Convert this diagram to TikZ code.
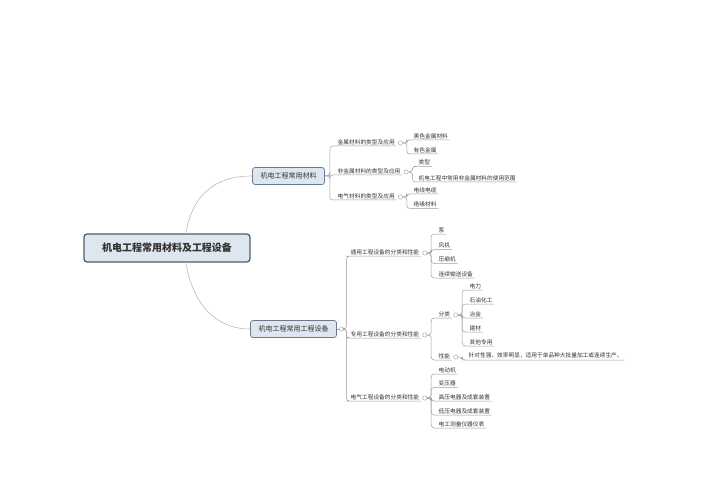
\documentclass[tikz,border=0pt]{standalone}
\usepackage{fontspec}
\newfontfamily\cjk{Noto Sans CJK SC}
\usetikzlibrary{positioning}
\definecolor{boxfill}{HTML}{DEE6EF}
\definecolor{boxline}{HTML}{6B7B8C}
\definecolor{rootline}{HTML}{4F5F70}
\definecolor{linkgray}{HTML}{9C9C9C}
\definecolor{textgray}{HTML}{333333}

\begin{document}
\begin{tikzpicture}[
	x=1pt, y=-1pt,
	rootbox/.style={ % 中心主题
		draw=rootline, line width=1.3pt, fill=boxfill, rounded corners=3pt,
		minimum width=166pt, minimum height=28pt, text=textgray,
		font=\cjk\bfseries\fontsize{10}{12}\selectfont
	},
	topic/.style={ % 一级主题
		draw=boxline, line width=0.7pt, fill=boxfill, rounded corners=2.5pt,
		minimum height=17pt, inner xsep=8pt, text=textgray,
		font=\cjk\fontsize{7}{8}\selectfont
	},
	leaf/.style={anchor=south west, inner xsep=1.5pt, inner ysep=1.2pt, text=textgray,
		font=\cjk\fontsize{5.7}{6.5}\selectfont},
	knob/.style={circle, draw=linkgray, fill=white, line width=0.4pt,
		inner sep=0pt, minimum size=4.4pt},
	link/.style={draw=linkgray, line width=0.5pt, rounded corners=3pt},
	trunk/.style={draw=linkgray!70, line width=0.6pt},
]
	\fill[white] (0,0) rectangle (718,500);
	\useasboundingbox (0,0) rectangle (718,500);

	%% 主题框
	\node[rootbox] (root) at (167,248) {机电工程常用材料及工程设备};
	\node[topic] (mat) at (288.5,176) {机电工程常用材料};
	\node[topic] (dev) at (293.5,329) {机电工程常用工程设备};
	\draw[trunk] (root.38) .. controls +(7,-40) and +(-36,0) .. (mat.west);
	\draw[trunk] (root.-38) .. controls +(7,40) and +(-36,0) .. (dev.west);

	%% 常用材料
	\node[leaf] (metal) at (336,146) {金属材料的类型及应用};
	\node[leaf] (nonmetal) at (336,175) {非金属材料的类型及应用};
	\node[leaf] (elec) at (336,200) {电气材料的类型及应用};
	\draw[link] (mat.east) -- ++(5,0) |- (metal.south west) -- (metal.south east);
	\draw[link] (mat.east) -- ++(5,0) |- (nonmetal.south west) -- (nonmetal.south east);
	\draw[link] (mat.east) -- ++(5,0) |- (elec.south west) -- (elec.south east);
	\node[knob] (metal-k) at ([shift={(4,-3)}]metal.south east) {};
	\node[knob] (nonmetal-k) at ([shift={(4,-3)}]nonmetal.south east) {};
	\node[knob] (elec-k) at ([shift={(4,-3)}]elec.south east) {};

	% 金属材料
	\node[leaf] (ferrous) at (412,140) {黑色金属材料};
	\node[leaf] (nonferrous) at (412,154) {有色金属};
	\draw[link] (metal-k.east) -- ++(4,0) |- (ferrous.south west) -- (ferrous.south east);
	\draw[link] (metal-k.east) -- ++(4,0) |- (nonferrous.south west) -- (nonferrous.south east);
	% 非金属材料
	\node[leaf] (kind) at (417,166.5) {类型};
	\node[leaf] (scope) at (417,182) {机电工程中常用非金属材料的使用范围};
	\draw[link] (nonmetal-k.east) -- ++(4,0) |- (kind.south west) -- (kind.south east);
	\draw[link] (nonmetal-k.east) -- ++(4,0) |- (scope.south west) -- (scope.south east);
	% 电气材料
	\node[leaf] (cable) at (412,194) {电线电缆};
	\node[leaf] (insul) at (412,208.5) {绝缘材料};
	\draw[link] (elec-k.east) -- ++(4,0) |- (cable.south west) -- (cable.south east);
	\draw[link] (elec-k.east) -- ++(4,0) |- (insul.south west) -- (insul.south east);

	%% 常用工程设备
	\node[knob] (dev-k) at ([xshift=4.7pt]dev.east) {};
	\draw[link] (dev.east) -- (dev-k);
	\node[leaf] (general) at (349,256) {通用工程设备的分类和性能};
	\node[leaf] (special) at (349,338) {专用工程设备的分类和性能};
	\node[leaf] (electric) at (349,401) {电气工程设备的分类和性能};
	\draw[link] (dev-k.east) -- ++(2.5,0) |- (general.south west) -- (general.south east);
	\draw[link] (dev-k.east) -- ++(2.5,0) |- (special.south west) -- (special.south east);
	\draw[link] (dev-k.east) -- ++(2.5,0) |- (electric.south west) -- (electric.south east);
	\node[knob] (general-k) at ([shift={(4,-3)}]general.south east) {};
	\node[knob] (special-k) at ([shift={(4,-3)}]special.south east) {};
	\node[knob] (electric-k) at ([shift={(4,-3)}]electric.south east) {};

	% 通用设备
	\node[leaf] (pump) at (437,234) {泵};
	\node[leaf] (fan) at (437,249.5) {风机};
	\node[leaf] (compr) at (437,263.5) {压缩机};
	\node[leaf] (convey) at (437,278) {连续输送设备};
	\draw[link] (general-k.east) -- ++(4,0) |- (pump.south west) -- (pump.south east);
	\draw[link] (general-k.east) -- ++(4,0) |- (fan.south west) -- (fan.south east);
	\draw[link] (general-k.east) -- ++(4,0) |- (compr.south west) -- (compr.south east);
	\draw[link] (general-k.east) -- ++(4,0) |- (convey.south west) -- (convey.south east);

	% 专用设备
	\node[leaf] (class) at (437,318) {分类};
	\node[leaf] (perf) at (437,360) {性能};
	\draw[link] (special-k.east) -- ++(4,0) |- (class.south west) -- (class.south east);
	\draw[link] (special-k.east) -- ++(4,0) |- (perf.south west) -- (perf.south east);
	\node[knob] (class-k) at ([shift={(4,-3)}]class.south east) {};
	\node[knob] (perf-k) at ([shift={(4,-3)}]perf.south east) {};
	\node[leaf] (power) at (468,290) {电力};
	\node[leaf] (petro) at (468,304) {石油化工};
	\node[leaf] (metall) at (468,318) {冶金};
	\node[leaf] (build) at (468,332) {建材};
	\node[leaf] (other) at (468,346) {其他专用};
	\draw[link] (class-k.east) -- ++(4,0) |- (power.south west) -- (power.south east);
	\draw[link] (class-k.east) -- ++(4,0) |- (petro.south west) -- (petro.south east);
	\draw[link] (class-k.east) -- ++(4,0) |- (metall.south west) -- (metall.south east);
	\draw[link] (class-k.east) -- ++(4,0) |- (build.south west) -- (build.south east);
	\draw[link] (class-k.east) -- ++(4,0) |- (other.south west) -- (other.south east);
	\node[leaf] (note) at (467,360) {针对性强、效率明显，适用于单品种大批量加工或连续生产。};
	\draw[link] (perf-k.east) -- ++(4,0) |- (note.south west) -- (note.south east);

	% 电气设备
	\node[leaf] (motor) at (437,374) {电动机};
	\node[leaf] (trans) at (437,387.5) {变压器};
	\node[leaf] (hv) at (437,401) {高压电器及成套装置};
	\node[leaf] (lv) at (437,415) {低压电器及成套装置};
	\node[leaf] (meter) at (437,428) {电工测量仪器仪表};
	\draw[link] (electric-k.east) -- ++(4,0) |- (motor.south west) -- (motor.south east);
	\draw[link] (electric-k.east) -- ++(4,0) |- (trans.south west) -- (trans.south east);
	\draw[link] (electric-k.east) -- ++(4,0) |- (hv.south west) -- (hv.south east);
	\draw[link] (electric-k.east) -- ++(4,0) |- (lv.south west) -- (lv.south east);
	\draw[link] (electric-k.east) -- ++(4,0) |- (meter.south west) -- (meter.south east);
\end{tikzpicture}
\end{document}
